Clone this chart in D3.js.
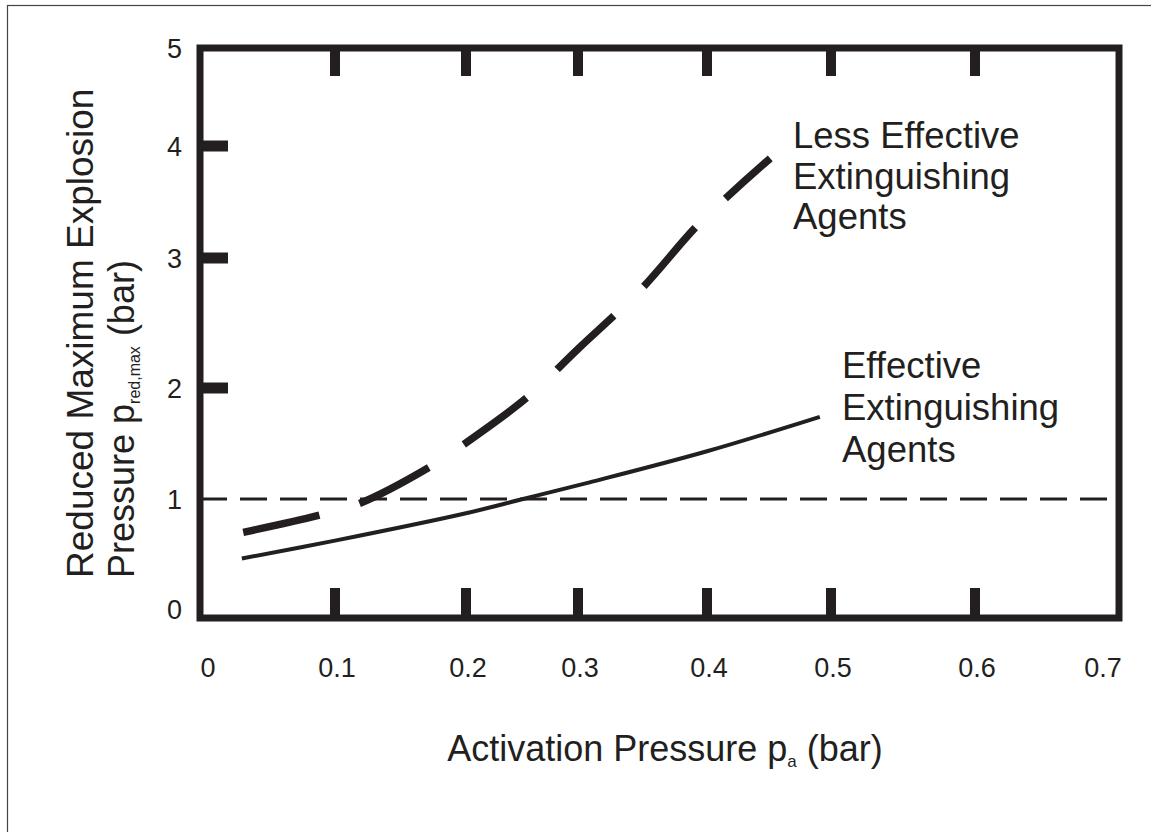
<!DOCTYPE html>
<html>
<head>
<meta charset="utf-8">
<script src="https://cdn.jsdelivr.net/npm/d3@7/dist/d3.min.js"></script>
<style>
  html, body { margin: 0; padding: 0; background: #fff; }
  svg { display: block; }
  text { font-family: "Liberation Sans", Arial, Helvetica, sans-serif; fill: #231f20; }
</style>
</head>
<body>
<svg id="chart" width="1151" height="832"></svg>
<script>
// ---- data ----
const xTicks = [0, 0.1, 0.2, 0.3, 0.4, 0.5, 0.6, 0.7];
const xTickLabels = ["0", "0.1", "0.2", "0.3", "0.4", "0.5", "0.6", "0.7"];
const yTicks = [0, 1, 2, 3, 4, 5];
const yTickLabels = ["0", "1", "2", "3", "4", "5"];
const yMajorTicks = [2, 3, 4];
const referenceLevel = 1;

// Less effective extinguishing agents (thick dashed curve)
const lessEffX = [0.032, 0.087, 0.118, 0.171, 0.198, 0.254, 0.300, 0.348, 0.395, 0.451];
const lessEffY = [0.72, 0.86, 0.96, 1.28, 1.49, 1.91, 2.30, 2.75, 3.32, 3.89];

// Effective extinguishing agents (solid curve)
const effX = [0.031, 0.100, 0.200, 0.251, 0.309, 0.400, 0.491];
const effY = [0.50, 0.65, 0.88, 1.00, 1.15, 1.43, 1.74];

const lessEffLabel = ["Less Effective", "Extinguishing", "Agents"];
const effLabel = ["Effective", "Extinguishing", "Agents"];

// ---- layout ----
const ink = "#231f20";
const svg = d3.select("#chart");

// outer frame
svg.append("rect")
  .attr("x", 7.5).attr("y", 5.5)
  .attr("width", 1160).attr("height", 840)
  .attr("fill", "none").attr("stroke", "#444").attr("stroke-width", 1.2);

// irregularly spaced axes of the original figure (piecewise linear)
const x = d3.scaleLinear().domain(xTicks).range([200, 335, 466, 578, 707, 831, 975, 1119]);
const y = d3.scaleLinear().domain(yTicks).range([618, 499, 388, 258, 146, 48]);

const x0 = x(xTicks[0]), x1 = x(xTicks[xTicks.length - 1]);
const y0 = y(yTicks[0]), y1 = y(yTicks[yTicks.length - 1]);

// reference dashed line at p = 1 bar
svg.append("line")
  .attr("x1", x0).attr("x2", x1 - 3)
  .attr("y1", y(referenceLevel)).attr("y2", y(referenceLevel))
  .attr("stroke", ink).attr("stroke-width", 3)
  .attr("stroke-dasharray", "27 13");

// curves
const line = d3.line()
  .x(d => x(d[0])).y(d => y(d[1]))
  .curve(d3.curveCatmullRom.alpha(0.5));

svg.append("path")
  .datum(lessEffX.map((v, i) => [v, lessEffY[i]]))
  .attr("d", line)
  .attr("fill", "none").attr("stroke", ink)
  .attr("stroke-width", 7.5)
  .attr("stroke-dasharray", "78 42");

svg.append("path")
  .datum(effX.map((v, i) => [v, effY[i]]))
  .attr("d", line)
  .attr("fill", "none").attr("stroke", ink)
  .attr("stroke-width", 4);

// frame of the plot
svg.append("rect")
  .attr("x", x0).attr("y", y1)
  .attr("width", x1 - x0).attr("height", y0 - y1)
  .attr("fill", "none").attr("stroke", ink)
  .attr("stroke-width", 7).attr("stroke-linejoin", "miter");

// inward ticks top and bottom
const inner = xTicks.slice(1, -1);
svg.selectAll("line.bt").data(inner).enter().append("line")
  .attr("class", "bt")
  .attr("x1", d => x(d)).attr("x2", d => x(d))
  .attr("y1", y0).attr("y2", y0 - 30)
  .attr("stroke", ink).attr("stroke-width", 10);
svg.selectAll("line.tt").data(inner).enter().append("line")
  .attr("class", "tt")
  .attr("x1", d => x(d)).attr("x2", d => x(d))
  .attr("y1", y1).attr("y2", y1 + 28)
  .attr("stroke", ink).attr("stroke-width", 10);
// left ticks
svg.selectAll("line.lt").data(yMajorTicks).enter().append("line")
  .attr("class", "lt")
  .attr("x1", x0).attr("x2", x0 + 28)
  .attr("y1", d => y(d)).attr("y2", d => y(d))
  .attr("stroke", ink).attr("stroke-width", 11);

// tick labels
svg.selectAll("text.xl").data(xTicks).enter().append("text")
  .attr("class", "xl")
  .attr("x", (d, i) => x(d) + (i === 0 ? 8 : (i === xTicks.length - 1 ? -16 : 2)))
  .attr("y", 677)
  .attr("text-anchor", "middle")
  .attr("font-size", 27)
  .text((d, i) => xTickLabels[i]);

svg.selectAll("text.yl").data(yTicks).enter().append("text")
  .attr("class", "yl")
  .attr("x", 182)
  .attr("y", (d, i) => y(d) + 10 - (i === 0 ? 9 : 0))
  .attr("text-anchor", "end")
  .attr("font-size", 27)
  .text((d, i) => yTickLabels[i]);

// axis titles
const xt = svg.append("text")
  .attr("x", 665).attr("y", 761)
  .attr("text-anchor", "middle")
  .attr("font-size", 36);
xt.append("tspan").text("Activation Pressure p");
xt.append("tspan").attr("font-size", 17).attr("dy", 6).text("a");
xt.append("tspan").attr("dy", -6).text(" (bar)");

const yt = svg.append("g").attr("transform", "translate(93,578) rotate(-90)");
yt.append("text").attr("x", 0).attr("y", 0)
  .attr("font-size", 37)
  .text("Reduced Maximum Explosion");
const yt2 = yt.append("text").attr("x", 0).attr("y", 41).attr("font-size", 36);
yt2.append("tspan").text("Pressure p");
yt2.append("tspan").attr("font-size", 16).attr("dy", 6).text("red,max");
yt2.append("tspan").attr("dy", -6).text(" (bar)");

// curve annotations
const annot = (lines, ax, ay, lh) => {
  svg.append("g").selectAll("text").data(lines).enter().append("text")
    .attr("x", ax).attr("y", (d, i) => ay + i * lh)
    .attr("font-size", 36.5)
    .text(d => d);
};
annot(lessEffLabel, 793, 148, 40.5);
annot(effLabel, 842, 378, 42);
</script>
</body>
</html>
